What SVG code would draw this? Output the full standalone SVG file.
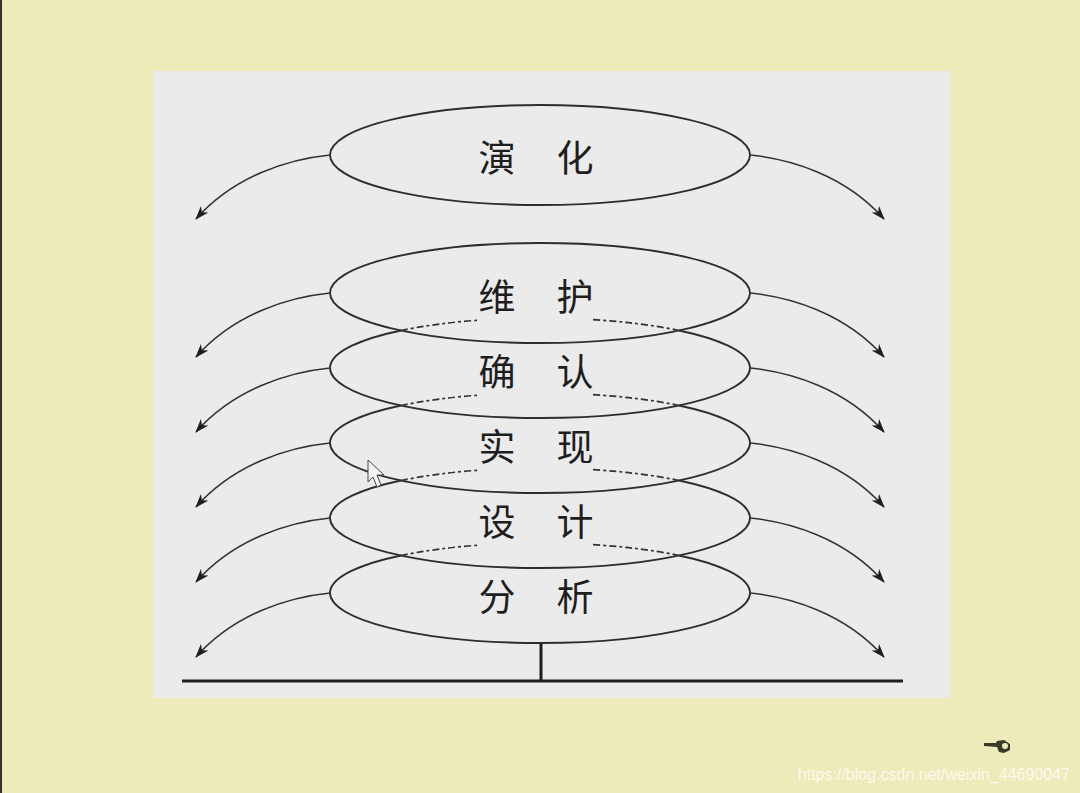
<svg xmlns="http://www.w3.org/2000/svg" width="1080" height="793" viewBox="0 0 1080 793">
<defs>
<style>
.ell{fill:none;stroke:#2e2e2e;stroke-width:1.9}
.dash{fill:none;stroke:#333;stroke-width:1.7;stroke-dasharray:7 3 3 3}
.arr{fill:none;stroke:#333;stroke-width:1.5;marker-end:url(#ah)}
.lbl{font-family:"Noto Sans CJK SC","Noto Sans CJK JP",sans-serif;font-size:37px;fill:#1e1e1e;text-anchor:middle}
.base{stroke:#1e1e1e;stroke-width:3;fill:none}
</style>
<marker id="ah" viewBox="0 0 14 10" refX="13" refY="5" markerWidth="14" markerHeight="10" markerUnits="userSpaceOnUse" orient="auto">
<path d="M0,0 L14,5 L0,10 L4,5 Z" fill="#1e1e1e"/>
</marker>
</defs>
<rect x="0" y="0" width="1080" height="793" fill="#eeebbb"/>
<rect x="0" y="0" width="2" height="793" fill="#333"/>
<rect x="153" y="71" width="797" height="627" fill="#ebebeb"/>

<g id="node-yanhua">
<ellipse class="ell" cx="540" cy="155" rx="210" ry="50"/>
<text class="lbl" y="172"><tspan x="497">演</tspan><tspan x="575">化</tspan></text>
</g>
<g id="node-weihu">
<ellipse class="ell" cx="540" cy="293" rx="210" ry="50"/>
<text class="lbl" y="311"><tspan x="497">维</tspan><tspan x="575">护</tspan></text>
</g>
<g id="node-queren">
<path class="ell" d="M401,330.5 A210,50 0 1,0 679,330.5"/>
<path class="dash" d="M401,330.5 A210,50 0 0,1 477,320.3 M593,319.6 A210,50 0 0,1 679,330.5"/>
<text class="lbl" y="386"><tspan x="497">确</tspan><tspan x="575">认</tspan></text>
</g>
<g id="node-shixian">
<path class="ell" d="M401,405.5 A210,50 0 1,0 679,405.5"/>
<path class="dash" d="M401,405.5 A210,50 0 0,1 477,395.3 M593,394.6 A210,50 0 0,1 679,405.5"/>
<text class="lbl" y="461"><tspan x="497">实</tspan><tspan x="575">现</tspan></text>
</g>
<g id="node-sheji">
<path class="ell" d="M401,480.5 A210,50 0 1,0 679,480.5"/>
<path class="dash" d="M401,480.5 A210,50 0 0,1 477,470.3 M593,469.6 A210,50 0 0,1 679,480.5"/>
<text class="lbl" y="536"><tspan x="497">设</tspan><tspan x="575">计</tspan></text>
</g>
<g id="node-fenxi">
<path class="ell" d="M401,555.5 A210,50 0 1,0 679,555.5"/>
<path class="dash" d="M401,555.5 A210,50 0 0,1 477,545.3 M593,544.6 A210,50 0 0,1 679,555.5"/>
<text class="lbl" y="611"><tspan x="497">分</tspan><tspan x="575">析</tspan></text>
</g>

<g id="connectors">
<path class="arr" d="M330,155 C290,159 235,175 196,219"/>
<path class="arr" d="M750,155 C790,159 845,175 884,219"/>
<path class="arr" d="M330,293 C290,297 235,313 196,357"/>
<path class="arr" d="M750,293 C790,297 845,313 884,357"/>
<path class="arr" d="M330,368 C290,372 235,388 196,432"/>
<path class="arr" d="M750,368 C790,372 845,388 884,432"/>
<path class="arr" d="M330,443 C290,447 235,463 196,507"/>
<path class="arr" d="M750,443 C790,447 845,463 884,507"/>
<path class="arr" d="M330,518 C290,522 235,538 196,582"/>
<path class="arr" d="M750,518 C790,522 845,538 884,582"/>
<path class="arr" d="M330,593 C290,597 235,613 196,657"/>
<path class="arr" d="M750,593 C790,597 845,613 884,657"/>
<path class="base" d="M541,643 L541,681 M182,681 L903,681"/>
</g>

<g id="cursor">
<path d="M368,460 L368,482 L373,477 L377,487 L381,485 L377,475 L384,475 Z" fill="#f4f4f4" stroke="#444" stroke-width="1"/>
</g>
<g id="hand">
<path d="M984,743 L996,743 L997,741 L1004,740 L1010,744 L1010,750 L1004,753 L999,752 L997,747 L984,746 Z" fill="#3a3a2a"/>
<circle cx="1005" cy="746" r="3" fill="#eeebbb"/>
</g>
<text x="1070" y="780" font-family="'Liberation Sans',Arial,sans-serif" font-size="16" fill="#ffffff" fill-opacity="0.75" text-anchor="end">https://blog.csdn.net/weixin_44690047</text>
</svg>
